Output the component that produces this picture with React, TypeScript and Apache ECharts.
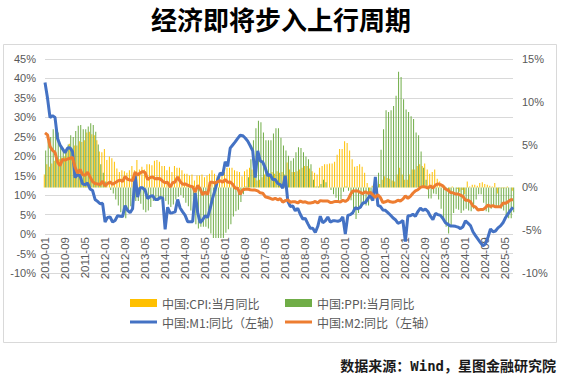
import React, { useEffect, useRef } from "react";
import * as echarts from "echarts";

const TITLE = "经济即将步入上行周期";
const SOURCE = "数据来源：Wind，星图金融研究院";

const NAME_CPI = "中国:CPI:当月同比";
const NAME_PPI = "中国:PPI:当月同比";
const NAME_M1 = "中国:M1:同比（左轴）";
const NAME_M2 = "中国:M2:同比（左轴）";

const START_YEAR = 2010;
const MONTH_COUNT = 188; // 2010-01 .. 2025-08

const months: string[] = [];
for (let i = 0; i < MONTH_COUNT; i++) {
  const y = START_YEAR + Math.floor(i / 12);
  const m = (i % 12) + 1;
  months.push(`${y}-${m < 10 ? "0" + m : m}`);
}

// M1 yoy (%), left axis
const m1: number[] = [
  38.96, 34.99, 29.94, 30.46, 29.97, 24.6, 22.9, 21.9, 20.9, 22.1, 22.2, 21.2,
  14.5, 15.3, 15.0, 12.9, 12.7, 13.1, 11.6, 11.2, 8.9, 8.4, 7.8, 7.9,
  3.1, 4.3, 4.4, 3.1, 3.5, 4.7, 4.6, 4.5, 7.3, 6.1, 5.5, 6.5,
  15.3, 9.5, 11.9, 11.9, 11.3, 9.1, 9.7, 9.9, 8.9, 8.9, 9.4, 9.3,
  1.2, 6.9, 5.4, 5.5, 5.7, 8.9, 6.7, 5.7, 4.8, 3.2, 3.2, 3.2,
  10.6, 5.6, 2.9, 3.7, 4.7, 4.3, 6.6, 9.3, 11.4, 14.0, 15.7, 15.2,
  18.6, 17.4, 22.1, 22.9, 23.7, 24.6, 25.4, 25.3, 24.7, 23.9, 22.7, 21.4,
  14.5, 21.4, 18.8, 18.5, 17.0, 15.0, 15.3, 14.0, 14.0, 13.0, 12.7, 11.8,
  15.0, 8.5, 7.1, 7.2, 6.0, 6.6, 5.1, 3.9, 4.0, 2.7, 1.5, 1.5,
  0.4, 2.0, 4.6, 2.9, 3.4, 4.4, 3.1, 3.4, 3.4, 3.3, 3.5, 4.4,
  0.0, 4.8, 5.0, 5.5, 6.8, 6.5, 6.9, 8.0, 8.1, 9.1, 10.0, 8.6,
  14.7, 7.4, 7.1, 6.2, 6.1, 5.5, 4.9, 4.2, 3.7, 2.8, 3.0, 3.5,
  -1.9, 4.7, 4.7, 5.1, 4.6, 5.8, 6.7, 6.1, 6.4, 5.8, 4.6, 3.7,
  5.3, 5.0, 4.8, 4.0, 2.9, 2.5, 2.1, 2.1, 2.0, 1.8, 1.4, 1.9,
  3.4, 2.8, 2.2, 0.6, -0.4, -1.3, -2.2, -3.0, -2.5, -0.8, 1.3, 0.6,
  0.8, 1.6, 2.1, 2.9, 4.2, 5.2, 6.1, 6.9,
];

// M2 yoy (%), left axis
const m2: number[] = [
  26.0, 25.5, 22.5, 21.5, 21.0, 18.5, 17.6, 19.2, 19.0, 19.3, 19.5, 19.7,
  17.2, 15.7, 16.6, 15.3, 15.1, 15.9, 14.7, 13.5, 13.0, 12.9, 12.7, 13.6,
  12.4, 13.0, 13.4, 12.8, 13.2, 13.6, 13.9, 13.5, 14.8, 14.1, 13.9, 13.8,
  15.9, 15.2, 15.7, 16.1, 15.8, 14.0, 14.5, 14.7, 14.2, 14.3, 14.2, 13.6,
  13.2, 13.3, 12.1, 13.2, 13.4, 14.7, 13.5, 12.8, 12.9, 12.6, 12.3, 12.2,
  10.8, 12.5, 11.6, 10.1, 10.8, 10.2, 13.3, 13.3, 13.1, 13.5, 13.7, 13.3,
  14.0, 13.3, 13.4, 12.8, 11.8, 11.8, 10.2, 11.4, 11.5, 11.6, 11.4, 11.3,
  11.3, 11.1, 10.6, 10.5, 9.6, 9.4, 9.2, 8.9, 9.2, 8.8, 9.1, 8.2,
  8.6, 8.8, 8.2, 8.3, 8.3, 8.0, 8.5, 8.2, 8.3, 8.0, 8.0, 8.1,
  8.4, 8.0, 8.6, 8.5, 8.5, 8.5, 8.1, 8.2, 8.4, 8.4, 8.2, 8.7,
  8.4, 8.8, 10.1, 11.1, 11.1, 11.1, 10.7, 10.4, 10.9, 10.5, 10.7, 10.1,
  9.4, 10.1, 9.4, 8.1, 8.3, 8.6, 8.3, 8.2, 8.3, 8.7, 8.5, 9.0,
  9.8, 9.2, 9.7, 10.5, 11.1, 11.4, 12.0, 12.2, 12.1, 11.8, 12.4, 11.8,
  12.6, 12.9, 12.7, 12.4, 11.6, 11.3, 10.7, 10.6, 10.3, 10.3, 10.0, 9.7,
  8.7, 8.7, 8.3, 7.2, 7.0, 6.2, 6.3, 6.3, 6.8, 7.5, 7.1, 7.3,
  7.0, 7.0, 7.0, 8.0, 7.9, 8.3, 8.8, 8.8,
];

// CPI yoy (%), right axis
const cpi: number[] = [
  1.5, 2.7, 2.4, 2.8, 3.1, 2.9, 3.3, 3.5, 3.6, 4.4, 5.1, 4.6,
  4.9, 4.9, 5.4, 5.3, 5.5, 6.4, 6.5, 6.2, 6.1, 5.5, 4.2, 4.1,
  4.5, 3.2, 3.6, 3.4, 3.0, 2.2, 1.8, 2.0, 1.9, 1.7, 2.0, 2.5,
  2.0, 3.2, 2.1, 2.4, 2.1, 2.7, 2.7, 2.6, 3.1, 3.2, 3.0, 2.5,
  2.5, 2.0, 2.4, 1.8, 2.5, 2.3, 2.3, 2.0, 1.6, 1.6, 1.4, 1.5,
  0.8, 1.4, 1.4, 1.5, 1.2, 1.4, 1.6, 2.0, 1.6, 1.3, 1.5, 1.6,
  1.8, 2.3, 2.3, 2.3, 2.0, 1.9, 1.8, 1.3, 1.9, 2.1, 2.3, 2.1,
  2.5, 0.8, 0.9, 1.2, 1.5, 1.5, 1.4, 1.8, 1.6, 1.9, 1.7, 1.8,
  1.5, 2.9, 2.1, 1.8, 1.8, 1.9, 2.1, 2.3, 2.5, 2.5, 2.2, 1.9,
  1.7, 1.5, 2.3, 2.5, 2.7, 2.7, 2.8, 2.8, 3.0, 3.8, 4.5, 4.5,
  5.4, 5.2, 4.3, 3.3, 2.4, 2.5, 2.7, 2.4, 1.7, 0.5, -0.5, 0.2,
  -0.3, -0.2, 0.4, 0.9, 1.3, 1.1, 1.0, 0.8, 0.7, 1.5, 2.3, 1.5,
  0.9, 0.9, 1.5, 2.1, 2.1, 2.5, 2.7, 2.5, 2.8, 2.1, 1.6, 1.8,
  2.1, 1.0, 0.7, 0.1, 0.2, 0.0, -0.3, 0.1, 0.0, -0.2, -0.5, -0.3,
  -0.8, 0.7, 0.1, 0.3, 0.3, 0.2, 0.5, 0.6, 0.4, 0.3, 0.2, 0.1,
  0.5, -0.7, -0.1, -0.1, -0.1, 0.1, 0.0, -0.4,
];

// PPI yoy (%), right axis
const ppi: number[] = [
  4.3, 5.4, 5.9, 6.8, 7.1, 6.4, 4.8, 4.3, 4.3, 5.0, 6.1, 5.9,
  6.6, 7.2, 7.3, 6.8, 6.8, 7.1, 7.5, 7.3, 6.5, 5.0, 2.7, 1.7,
  0.7, 0.0, -0.3, -0.7, -1.4, -2.1, -2.9, -3.5, -3.6, -2.8, -2.2, -1.9,
  -1.6, -1.6, -1.9, -2.6, -2.9, -2.7, -2.3, -1.6, -1.3, -1.5, -1.4, -1.4,
  -1.6, -2.0, -2.3, -2.0, -1.4, -1.1, -0.9, -1.2, -1.8, -2.2, -2.7, -3.3,
  -4.3, -4.8, -4.6, -4.6, -4.6, -4.8, -5.4, -5.9, -5.9, -5.9, -5.9, -5.9,
  -5.3, -4.9, -4.3, -3.4, -2.8, -2.6, -1.7, -0.8, 0.1, 1.2, 3.3, 5.5,
  6.9, 7.8, 7.6, 6.4, 5.5, 5.5, 5.5, 6.3, 6.9, 6.9, 5.8, 4.9,
  4.3, 3.7, 3.1, 3.4, 4.1, 4.7, 4.6, 4.1, 3.6, 3.3, 2.7, 0.9,
  0.1, 0.1, 0.4, 0.9, 0.6, 0.0, -0.3, -0.8, -1.2, -1.6, -1.4, -0.5,
  0.1, -0.4, -1.5, -3.1, -3.7, -3.0, -2.4, -2.0, -2.1, -2.1, -1.5, -0.4,
  0.3, 1.7, 4.4, 6.8, 9.0, 8.8, 9.0, 9.5, 10.7, 13.5, 12.9, 10.3,
  9.1, 8.8, 8.3, 8.0, 6.4, 6.1, 4.2, 2.3, 0.9, -1.3, -1.3, -0.7,
  -0.8, -1.4, -2.5, -3.6, -4.6, -5.4, -4.4, -3.0, -2.5, -2.6, -3.0, -2.7,
  -2.5, -2.7, -2.8, -2.5, -1.4, -0.8, -0.8, -1.8, -2.8, -2.9, -2.5, -2.3,
  -2.3, -2.2, -2.5, -2.7, -3.3, -3.6, -3.6, -2.9,
];

const CJK = "'Noto Sans CJK SC', sans-serif";
const NUM = "'Liberation Sans', Arial, sans-serif";
const GRAY = "#595959";

export default function App() {
  const ref = useRef<HTMLDivElement>(null);
  useEffect(() => {
    if (!ref.current) return;
    const chart = echarts.init(ref.current, undefined, { renderer: "svg" });
    const legendText = { fontSize: 12, color: GRAY, fontFamily: CJK };
    const legendBase = { padding: 0, itemWidth: 27, itemGap: 4, textStyle: legendText };
    chart.setOption({
      animation: false,
      backgroundColor: "#ffffff",
      title: {
        text: TITLE,
        left: "center",
        top: 0,
        textStyle: { fontSize: 26, fontWeight: "bold", color: "#000", fontFamily: CJK },
      },
      graphic: [
        {
          type: "rect",
          shape: { x: 3.5, y: 44.5, width: 553, height: 298 },
          style: { fill: "none", stroke: "#d9d9d9", lineWidth: 1 },
          silent: true,
        },
        {
          type: "text",
          x: 556,
          y: 366,
          style: {
            text: SOURCE,
            fontSize: 14,
            fontWeight: "bold",
            fill: "#1a1a1a",
            fontFamily: "'DejaVu Sans Mono', 'Noto Sans CJK SC', monospace",
            textAlign: "right",
            textVerticalAlign: "middle",
          },
        },
      ],
      legend: [
        { ...legendBase, data: [{ name: NAME_CPI, icon: "rect" }], left: 130, top: 297, itemHeight: 8 },
        { ...legendBase, data: [{ name: NAME_PPI, icon: "rect" }], left: 285, top: 297, itemHeight: 8 },
        { ...legendBase, data: [{ name: NAME_M1, icon: "rect" }], left: 130, top: 316, itemHeight: 3 },
        { ...legendBase, data: [{ name: NAME_M2, icon: "rect" }], left: 285, top: 316, itemHeight: 3 },
      ],
      grid: [
        { left: 45, right: 49, top: 59, bottom: 102, containLabel: false },
        { left: 45, right: 49, top: 59, height: 175, containLabel: false },
      ],
      xAxis: [
        {
          type: "category",
          gridIndex: 0,
          data: months,
          boundaryGap: false,
          axisLine: { show: false },
          axisTick: { show: false },
          axisLabel: { show: false },
          splitLine: { show: false },
        },
        {
          type: "category",
          gridIndex: 1,
          data: months,
          boundaryGap: false,
          position: "bottom",
          axisLine: { show: false },
          axisTick: { show: false },
          axisLabel: { interval: 7, rotate: 90, fontSize: 11.5, color: GRAY, margin: 3, fontFamily: NUM },
          splitLine: { show: false },
        },
      ],
      yAxis: [
        {
          type: "value",
          gridIndex: 0,
          position: "left",
          min: -10,
          max: 45,
          interval: 5,
          axisLine: { show: false },
          axisTick: { show: false },
          axisLabel: { formatter: "{value}%", fontSize: 11, color: GRAY, margin: 9, fontFamily: NUM },
          splitLine: { show: true, lineStyle: { color: "#d9d9d9", width: 1 } },
        },
        {
          type: "value",
          gridIndex: 0,
          position: "right",
          min: -10,
          max: 15,
          interval: 5,
          axisLine: { show: false },
          axisTick: { show: false },
          axisLabel: { formatter: "{value}%", fontSize: 11, color: GRAY, margin: 9, fontFamily: NUM },
          splitLine: { show: false },
        },
        {
          type: "value",
          gridIndex: 1,
          show: false,
          min: 0,
          max: 1,
        },
      ],
      series: [
        {
          name: NAME_CPI,
          type: "bar",
          xAxisIndex: 0,
          yAxisIndex: 1,
          data: cpi,
          barWidth: 1,
          barGap: "40%",
          itemStyle: { color: "#FFC000" },
        },
        {
          name: NAME_PPI,
          type: "bar",
          xAxisIndex: 0,
          yAxisIndex: 1,
          data: ppi,
          barWidth: 1,
          barGap: "40%",
          itemStyle: { color: "#70AD47" },
        },
        {
          name: NAME_M1,
          type: "line",
          xAxisIndex: 0,
          yAxisIndex: 0,
          data: m1,
          symbol: "none",
          lineStyle: { color: "#4472C4", width: 3 },
          itemStyle: { color: "#4472C4" },
        },
        {
          name: NAME_M2,
          type: "line",
          xAxisIndex: 0,
          yAxisIndex: 0,
          data: m2,
          symbol: "none",
          lineStyle: { color: "#ED7D31", width: 3 },
          itemStyle: { color: "#ED7D31" },
        },
      ],
    });
    return () => chart.dispose();
  }, []);
  return (
    <div
      ref={ref}
      style={{ position: "absolute", left: 0, top: 0, width: 562, height: 375, background: "#fff" }}
    />
  );
}
